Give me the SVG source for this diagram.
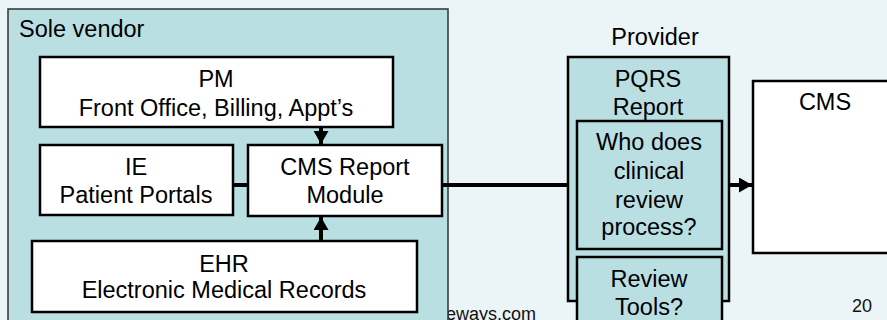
<svg xmlns="http://www.w3.org/2000/svg" width="887" height="320" viewBox="0 0 887 320">
<defs>
<style>
text{font-family:"Liberation Sans",Arial,sans-serif;font-size:23.5px;fill:#000;text-anchor:middle}
.box{fill:#fff;stroke:#000;stroke-width:2.5}
.teal{fill:#B9DFE2;stroke:#000;stroke-width:2.5}
.con{stroke:#000;stroke-width:4;fill:none}
.small{font-size:18px;fill:#111}
</style>
<marker id="ah" viewBox="0 0 13 15" refX="13" refY="7.5" markerWidth="13" markerHeight="15" orient="auto" markerUnits="userSpaceOnUse">
<path d="M0,0 L13,7.5 L0,15 Z" fill="#000"/>
</marker>
</defs>
<rect x="0" y="0" width="887" height="320" fill="#EBF4F6"/>
<text class="small" x="446" y="320" style="text-anchor:start">eways.com</text>
<g id="sole-vendor">
<rect x="8" y="9" width="440" height="320" fill="#B9DFE2" stroke="#333" stroke-width="1.5"/>
<text x="19" y="37" style="text-anchor:start">Sole vendor</text>
</g>
<g id="pm">
<rect class="box" x="40" y="57" width="353" height="70"/>
<text x="216" y="87">PM</text>
<text x="216" y="116">Front Office, Billing, Appt’s</text>
</g>
<g id="ie">
<rect class="box" x="40" y="145" width="193" height="70"/>
<text x="136" y="175">IE</text>
<text x="136" y="203">Patient Portals</text>
</g>
<g id="cms-report">
<rect class="box" x="248" y="145" width="194" height="71"/>
<text x="345" y="175">CMS Report</text>
<text x="345" y="203">Module</text>
</g>
<g id="ehr">
<rect class="box" x="32" y="241" width="385" height="71"/>
<text x="224" y="272">EHR</text>
<text x="224" y="298">Electronic Medical Records</text>
</g>
<g id="provider">
<text x="655" y="45">Provider</text>
<rect class="teal" x="568" y="57" width="161" height="244"/>
<text x="648" y="87">PQRS</text>
<text x="648" y="115">Report</text>
</g>
<g id="clinical-review">
<rect class="teal" x="577" y="121" width="145" height="128"/>
<text x="649" y="150">Who does</text>
<text x="649" y="179">clinical</text>
<text x="649" y="208">review</text>
<text x="649" y="235">process?</text>
</g>
<g id="review-tools">
<rect class="teal" x="577" y="257" width="145" height="80"/>
<text x="649" y="287">Review</text>
<text x="649" y="315">Tools?</text>
</g>
<g id="cms">
<rect class="box" x="753" y="81" width="150" height="172"/>
<text x="825" y="110">CMS</text>
</g>
<text class="small" x="862" y="312">20</text>
<g id="connectors">
<line class="con" x1="321" y1="127" x2="321" y2="144" marker-end="url(#ah)"/>
<line class="con" x1="321" y1="241" x2="321" y2="217" marker-end="url(#ah)"/>
<line class="con" x1="233" y1="185" x2="248" y2="185"/>
<line class="con" x1="442" y1="185" x2="568" y2="185"/>
<line class="con" x1="729" y1="185" x2="752" y2="185" marker-end="url(#ah)"/>
</g>
</svg>
